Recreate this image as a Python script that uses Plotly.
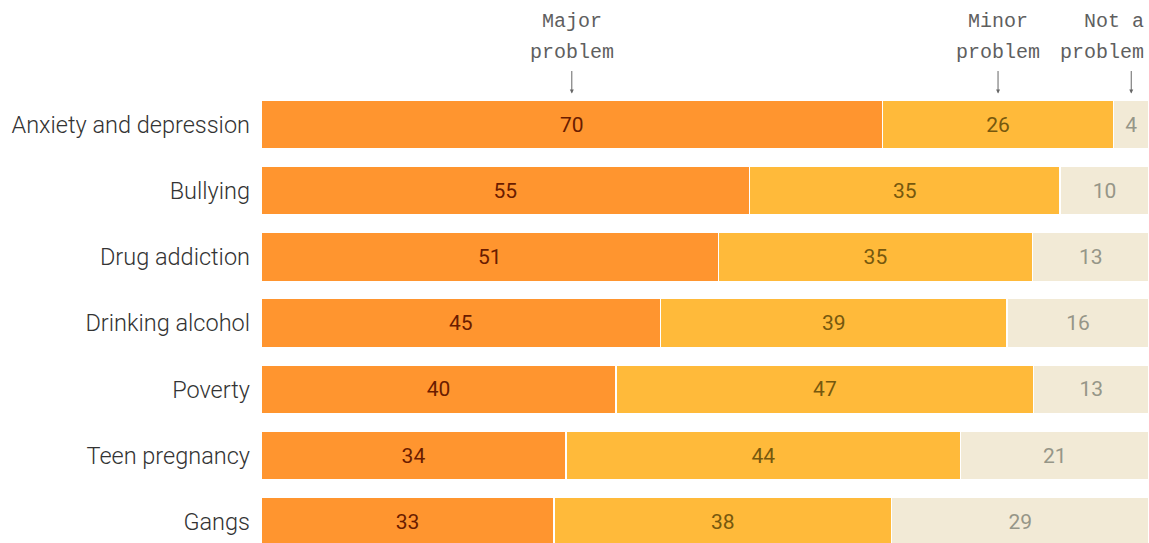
import plotly.graph_objects as go

categories = ["Anxiety and depression", "Bullying", "Drug addiction", "Drinking alcohol",
              "Poverty", "Teen pregnancy", "Gangs"]
major = [70, 55, 51, 45, 40, 34, 33]
minor = [26, 35, 35, 39, 47, 44, 38]
not_a = [4, 10, 13, 16, 13, 21, 29]
series_names = ["Major problem", "Minor problem", "Not a problem"]
header_line1 = ["Major", "Minor", "Not a"]
header_line2 = ["problem", "problem", "problem"]

colors = ["#FF952F", "#FFBA3A", "#F2EAD6"]
text_colors = ["#6A1C00", "#76580E", "#969688"]

fig = go.Figure()
for vals, name, c, tc in zip([major, minor, not_a], series_names, colors, text_colors):
    fig.add_trace(go.Bar(
        y=categories, x=vals, name=name, orientation="h",
        marker=dict(color=c, line=dict(color="white", width=1.5)),
        width=0.74,
        text=[str(v) for v in vals], textposition="inside", insidetextanchor="middle",
        textfont=dict(family="Roboto", size=21, color=tc),
        textangle=0, hoverinfo="skip",
    ))

# header annotations above the first row, centred over each segment
first = [major[0], minor[0], not_a[0]]
tot = sum(first)
cum = 0
centers = []
for v in first:
    centers.append((cum + v / 2) / tot * 100)
    cum += v

hfont = dict(family="Liberation Mono", size=20, color="#5f5f5f")
for i, cx in enumerate(centers):
    fig.add_annotation(
        x=cx, y=categories[0], xref="x", yref="y",
        yshift=31, ax=0, ay=-24, text="", showarrow=True,
        arrowhead=2, arrowsize=0.8, arrowwidth=1, arrowcolor="#666",
    )
    for j, lab in enumerate([header_line1[i], header_line2[i]]):
        ys = -8 - 31 * j
        if i == 2:
            fig.add_annotation(
                x=1.0, y=1.0, xref="paper", yref="paper", xanchor="right", yanchor="top",
                text=lab, showarrow=False, xshift=-3, yshift=ys, font=hfont,
            )
        else:
            fig.add_annotation(
                x=cx, y=1.0, xref="x", yref="paper", xanchor="center", yanchor="top",
                text=lab, showarrow=False, yshift=ys, font=hfont,
            )

fig.update_layout(
    barmode="stack", barnorm="percent",
    width=1149, height=543,
    margin=dict(l=261, r=0, t=0, b=0),
    paper_bgcolor="white", plot_bgcolor="white",
    showlegend=False,
    xaxis=dict(visible=False, range=[0, 100], fixedrange=True),
    yaxis=dict(type="category", range=[6.321, -1.881], showgrid=False, zeroline=False,
               ticks="", ticklabelstandoff=10, fixedrange=True,
               tickfont=dict(family="Roboto", size=23.5, weight=300, color="#333")),
)

fig.write_html("out.html", config={"displayModeBar": False},
               post_script="document.body.style.margin='0';document.body.style.overflow='hidden';")
